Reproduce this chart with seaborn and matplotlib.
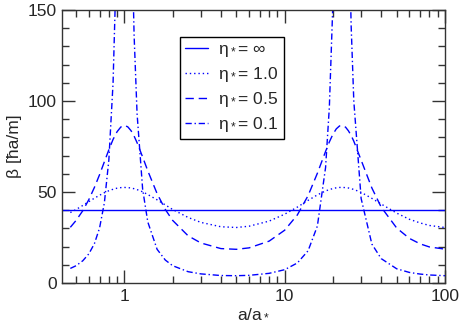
import seaborn as sns
import matplotlib.pyplot as plt
from matplotlib.ticker import LogLocator, NullFormatter, FixedLocator, MultipleLocator

# a/a* sample points
a = [0.46, 0.5, 0.55, 0.6, 0.65, 0.7, 0.75, 0.8, 0.85, 0.9, 0.95, 1.0, 1.05, 1.1, 1.15,
     1.2, 1.3, 1.4, 1.6, 1.8, 2, 2.5, 3, 4, 5, 6, 8, 10, 12, 14, 16, 18, 19, 20, 21,
     22, 23, 24, 25, 26, 27, 30, 35, 40, 50, 60, 70, 80, 100]

# eta* = infinity (constant)
a_inf = [0.41, 100]
beta_inf = [40, 40]

beta_10 = [38.7, 40.4, 42.6, 44.7, 46.6, 48.2, 49.6, 50.7, 51.5, 52.1, 52.4, 52.5, 52.4, 52.2, 51.8,
           51.3, 50.1, 48.6, 45.7, 42.9, 40.4, 36.0, 33.3, 30.9, 30.5, 31.2, 34.0, 37.8, 41.7, 45.4, 48.4, 50.6, 51.3, 51.9, 52.3,
           52.5, 52.5, 52.4, 52.2, 51.8, 51.4, 49.8, 46.5, 43.4, 38.4, 35.0, 33.0, 31.6, 30.5]

beta_05 = [30.6, 34.4, 39.7, 45.8, 52.5, 59.5, 66.6, 73.2, 78.9, 83.1, 85.7, 86.6, 85.8, 83.7, 80.7,
           77.1, 69.2, 61.6, 49.1, 40.4, 34.4, 25.9, 22.0, 18.9, 18.5, 19.3, 23.0, 29.0, 37.4, 48.0, 60.3, 72.3, 77.5, 81.7, 84.7,
           86.3, 86.5, 85.6, 83.6, 81.0, 77.9, 67.5, 52.2, 41.7, 30.2, 24.5, 21.5, 19.8, 18.6]

beta_01 = [8.0, 9.5, 12.2, 16.0, 21.6, 30.2, 44.0, 67.6, 110, 190, 317, 401, 324, 210, 136,
           93, 51.5, 33.5, 18.5, 12.6, 9.5, 6.2, 5.0, 4.1, 4.0, 4.2, 5.3, 7.3, 11.0, 17.7, 31.3, 63.5, 96.5, 154, 250,
           366, 394, 305, 207, 141, 100, 46.4, 21.4, 13.4, 7.8, 5.8, 4.9, 4.4, 4.0]

labels = ["η$_*$= ∞", "η$_*$= 1.0", "η$_*$= 0.5", "η$_*$= 0.1"]

sns.set_style("ticks")
plt.rcParams['font.family'] = ['Liberation Sans', 'DejaVu Sans']
plt.rcParams['mathtext.fontset'] = 'custom'
plt.rcParams['mathtext.rm'] = 'Liberation Sans'
plt.rcParams['mathtext.default'] = 'regular'
plt.rcParams['font.size'] = 12.5

fig, ax = plt.subplots(figsize=(4.63, 3.27), dpi=100)
fig.subplots_adjust(left=0.1346, right=0.961, bottom=0.1346, top=0.9694)
ax.set_xscale("log")

blue = "#0000ff"
lw = 1.0
sns.lineplot(x=a_inf, y=beta_inf, ax=ax, color=blue, lw=lw, label=labels[0])
sns.lineplot(x=a, y=beta_10, ax=ax, color=blue, lw=lw, linestyle=(0, (1, 2.1)), label=labels[1])
sns.lineplot(x=a, y=beta_05, ax=ax, color=blue, lw=lw, linestyle=(0, (6, 3.5)), label=labels[2])
sns.lineplot(x=a, y=beta_01, ax=ax, color=blue, lw=lw, linestyle=(0, (4.5, 2, 1, 2)), label=labels[3])

ax.set_xlim(0.41, 100)
ax.set_ylim(0, 150)

ax.xaxis.set_major_locator(FixedLocator([1, 10, 100]))
ax.set_xticklabels(["1", "10", "100"])
ax.xaxis.set_minor_locator(LogLocator(base=10, subs=range(2, 10)))
ax.xaxis.set_minor_formatter(NullFormatter())
ax.yaxis.set_major_locator(MultipleLocator(50))
ax.yaxis.set_minor_locator(MultipleLocator(10))

ax.tick_params(which="both", direction="in", top=True, right=True, color="#333333")
ax.tick_params(which="major", length=9.5, width=1, pad=4, labelsize=12.5)
ax.tick_params(which="minor", length=4.7, width=1)
for s in ax.spines.values():
    s.set_color("#333333")
    s.set_linewidth(1)

ax.set_xlabel("a/a$_*$", fontsize=12.5, labelpad=2)
ax.set_ylabel("β [ħa/m]", fontsize=12.5, labelpad=4)

leg = ax.legend(loc="upper left", bbox_to_anchor=(0.308, 0.902), borderaxespad=0,
                fontsize=12.5, handlelength=1.3, handletextpad=0.6, labelspacing=0.34,
                borderpad=0.3, fancybox=False, framealpha=1, edgecolor="black")
leg.get_frame().set_linewidth(1)

plt.savefig("out.png", dpi=100)
